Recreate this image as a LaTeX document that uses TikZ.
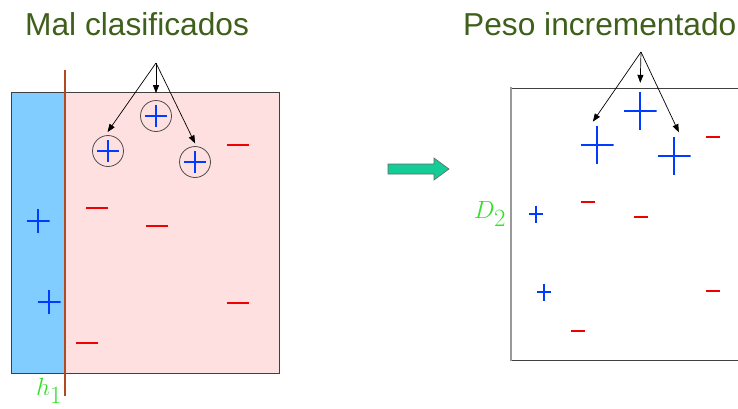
\documentclass[tikz,border=0pt]{standalone}
\usepackage{fontspec}
\setmainfont{Liberation Sans}
\usetikzlibrary{arrows.meta}
\definecolor{titlegreen}{RGB}{62,96,26}
\definecolor{labelgreen}{RGB}{50,225,40}
\definecolor{posblue}{RGB}{0,60,255}
\definecolor{negred}{RGB}{240,0,0}
\definecolor{regblue}{RGB}{130,205,255}
\definecolor{regpink}{RGB}{255,224,224}
\definecolor{splitbrown}{RGB}{176,74,34}
\definecolor{arrowteal}{RGB}{20,204,150}
\tikzset{
  title/.style={text=titlegreen, font=\fontsize{31.7}{32}\selectfont, inner sep=0pt},
  glabel/.style={text=labelgreen, font=\fontsize{26}{26}\selectfont, inner sep=0pt},
  plussign/.style 2 args={inner sep=0pt, minimum width=#1, minimum height=#2,
    path picture={\draw[posblue, line width=1.8pt]
      (path picture bounding box.north) -- (path picture bounding box.south)
      (path picture bounding box.west) -- (path picture bounding box.east);}},
  minussign/.style 2 args={inner sep=0pt, minimum width=#1, minimum height=#2,
    path picture={\draw[negred, line width=#2]
      (path picture bounding box.west) -- (path picture bounding box.east);}},
  ringplus/.style={circle, draw=black!70, line width=0.8pt, inner sep=0pt, minimum size=31,
    path picture={\draw[posblue, line width=1.8pt]
      ([xshift=-11pt]path picture bounding box.center) -- ([xshift=11pt]path picture bounding box.center)
      ([yshift=-11pt]path picture bounding box.center) -- ([yshift=11pt]path picture bounding box.center);}},
  pointer/.style={-{Triangle[length=8pt,width=6pt]}, line width=0.7pt},
}
\begin{document}
\begin{tikzpicture}[x=1pt,y=-1pt]
\useasboundingbox (0,0) rectangle (738,408);
\clip (0,0) rectangle (738,408);
% titles
\node[title, anchor=base west] (t1) at (25,35) {Mal clasificados};
\node[title, anchor=base west] (t2) at (463,35) {Peso incrementado};
% left: h1 splits the data
\fill[regblue] (11,92) rectangle (65,373);
\fill[regpink] (65,92) rectangle (279,373);
\draw[black!75, line width=1pt] (11,92) rectangle (279,373);
\draw[splitbrown, line width=2.2pt] (65,70) -- (65,396);
\node[glabel] (h1) at (49,391) {$h_{\displaystyle 1}$};
\node[plussign={23}{24}] (p1) at (38,221) {};
\node[plussign={23}{24}] (p2) at (49,302) {};
\node[ringplus] (w1) at (108,151) {};
\node[ringplus] (w2) at (156,116) {};
\node[ringplus] (w3) at (195,162) {};
\node[minussign={22}{2.5}] (n1) at (238,145) {};
\node[minussign={22}{2.5}] (n2) at (97,208) {};
\node[minussign={22}{2.5}] (n3) at (157,226) {};
\node[minussign={22}{2.5}] (n4) at (238,303) {};
\node[minussign={22}{2.5}] (n5) at (87,343) {};
\coordinate (top1) at (156,63);
\draw[pointer, shorten >=4pt] (top1) -- (w1.100);
\draw[pointer, shorten >=7pt] (top1) -- (w2.north);
\draw[pointer, shorten >=3pt] (top1) -- (w3.85);
% arrow between
\draw[fill=arrowteal, draw=black!60, line width=0.6pt]
  (388,164) -- (434,164) -- (434,158) -- (449,169) -- (434,180) -- (434,174) -- (388,174) -- cycle;
% right: reweighted data D2
\draw[black!75, line width=1pt] (511,88) -- (745,88) (511,360) -- (745,360);
\draw[black!40, line width=2.5pt] (511,87) -- (511,361);
\node[glabel, font=\fontsize{28}{28}\selectfont] (d2) at (490,214) {$D_{\displaystyle 2}$};
\node[plussign={33}{38}] (b1) at (597,145) {};
\node[plussign={33}{38}] (b2) at (640,111) {};
\node[plussign={33}{38}] (b3) at (674,156) {};
\node[plussign={14}{17}] (s1) at (536,214) {};
\node[plussign={14}{17}] (s2) at (544,292) {};
\node[minussign={14}{2.2}] (r1) at (713,137) {};
\node[minussign={14}{2.2}] (r2) at (588,202) {};
\node[minussign={14}{2.2}] (r3) at (641,217) {};
\node[minussign={14}{2.2}] (r4) at (713,291) {};
\node[minussign={14}{2.2}] (r5) at (578,331) {};
\coordinate (top2) at (641,52);
\draw[pointer, shorten >=5pt] (top2) -- (b1.110);
\draw[pointer, shorten >=9pt] (top2) -- (b2.north);
\draw[pointer, shorten >=5pt] (top2) -- (b3.70);
\end{tikzpicture}
\end{document}
